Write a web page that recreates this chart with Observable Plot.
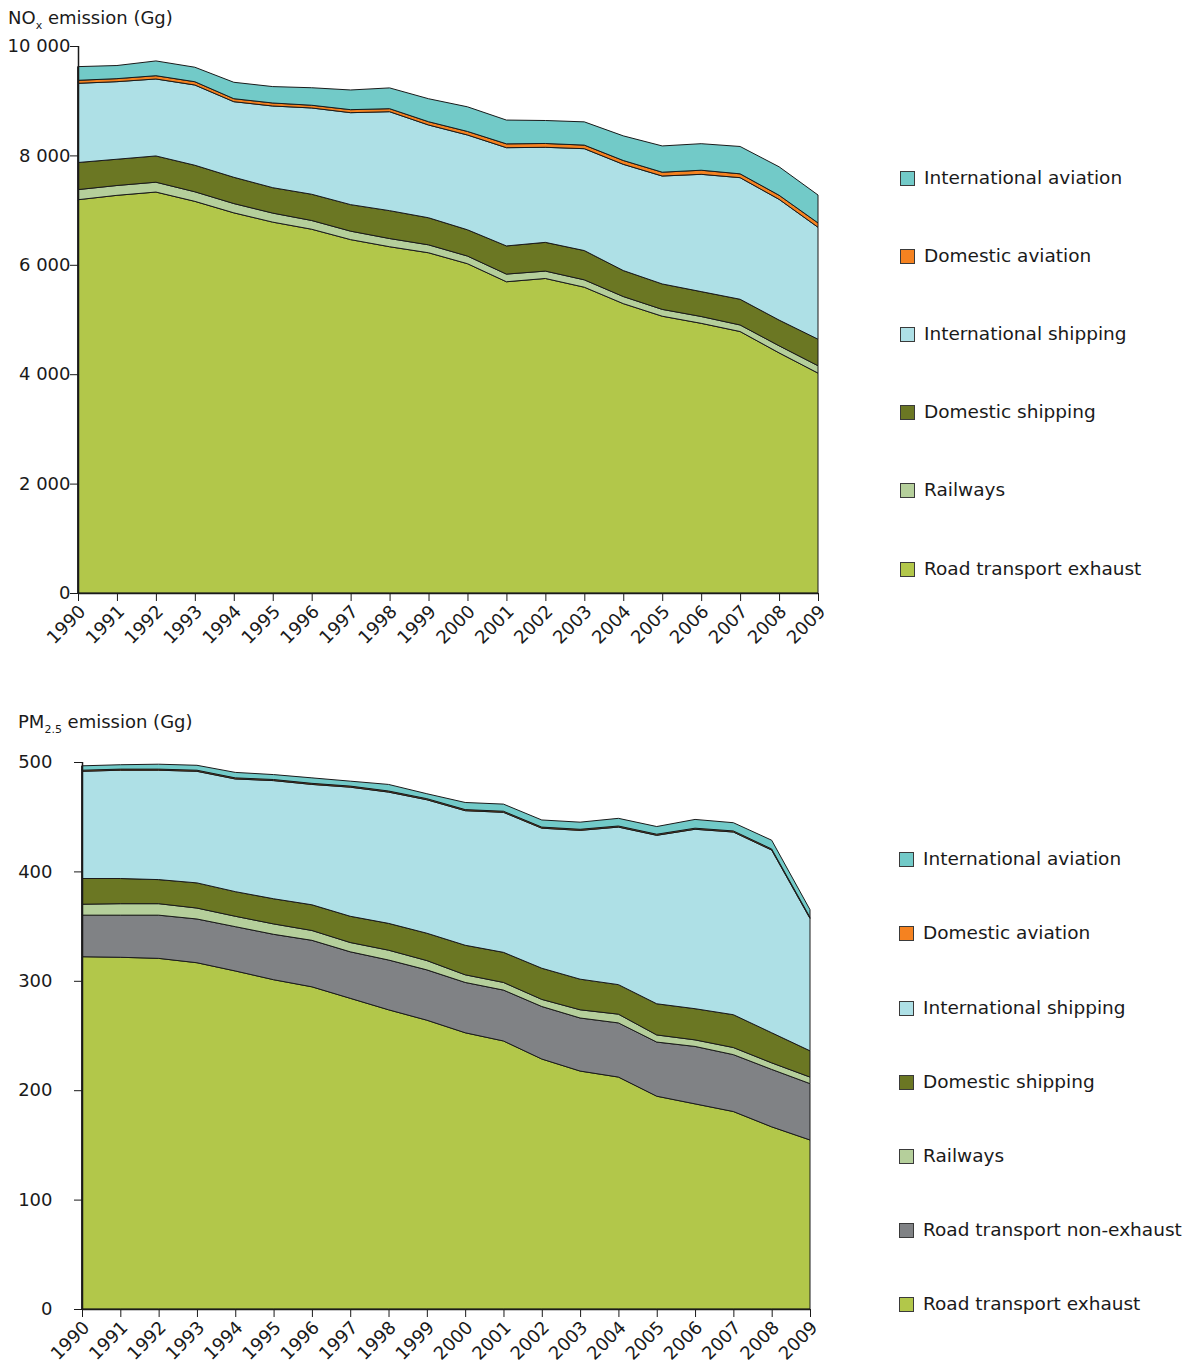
<!DOCTYPE html>
<html><head><meta charset="utf-8">
<script src="https://cdn.jsdelivr.net/npm/d3@7"></script>
<script src="https://cdn.jsdelivr.net/npm/@observablehq/plot@0.6"></script>
<style>
body{margin:0;background:#fff;font-family:"DejaVu Sans",Verdana,sans-serif;color:#1a1a1a}
#wrap{position:relative;width:1194px;height:1365px;overflow:hidden}
.title{position:absolute;font-size:18px;white-space:nowrap;line-height:24px}
.title sub{font-size:11px;vertical-align:-5px;line-height:0}
.leg{position:absolute;font-size:18.5px;white-space:nowrap;display:flex;align-items:center;height:24px;line-height:24px}
.sw{width:15px;height:15px;border:1px solid #3a3a3a;box-sizing:border-box;margin-right:9px}
</style></head>
<body><div id="wrap"></div>
<script>
// ---------- data ----------
const years = [1990,1991,1992,1993,1994,1995,1996,1997,1998,1999,2000,2001,2002,2003,2004,2005,2006,2007,2008,2009];

// NOx emission (Gg)
const noxRoadExhaust = [7190,7270,7330,7160,6950,6780,6650,6460,6330,6220,6020,5690,5750,5590,5290,5060,4930,4780,4390,4020];
const noxRailways    = [185,180,180,175,170,165,160,155,150,145,140,140,135,135,130,125,125,120,130,135];
const noxDomShipping = [495,480,480,485,480,465,480,485,510,495,480,515,525,535,475,465,455,470,470,485];
const noxIntShipping = [1448,1418,1407,1467,1382,1493,1577,1681,1809,1696,1733,1796,1738,1863,1942,1973,2144,2223,2207,2046];
const noxDomAviation = [55,55,60,60,55,55,50,55,55,60,65,70,70,65,70,70,75,70,75,80];
const noxIntAviation = [250,240,270,265,300,300,320,360,380,420,450,435,420,425,450,480,485,500,520,510];

// PM2.5 emission (Gg)
const pmRoadExhaust = [322,321.5,320.5,316.5,309,301,294.5,284,273.5,264,252.5,245,228.5,217.5,212,194.5,187.5,180.5,166.5,154.5];
const pmRoadNonExh  = [38,38.5,39.5,40,40.5,41.5,42.5,42.5,45.5,46,46,46.5,48,48.5,49.5,49.5,52.5,52,52.5,51.5];
const pmRailways    = [10,10.5,10.5,10,9.5,9.5,9,8.5,9,8.5,7,7,6.5,7.5,8,6.5,6,6.5,6,6];
const pmDomShipping = [23.5,23,22,23,22.5,23,23.5,24,24.5,25,27,27.5,28.5,28,27,28.5,28.5,30,27.5,24];
const pmIntShipping = [98,99,100,102,103,108,110,118,120,122,123,128,128,136,144,154,164,167,167,121];
const pmDomAviation = [1,1,1,1,1,1,1,1,1,1,1,1,1,1,1,1,1,1,1,1];
const pmIntAviation = [4,4,4.5,4.5,5,4.5,5,4.5,6,4.5,6.5,6.5,6.5,6.5,7,7,8,7.5,8,7];

// series names (bottom to top) and colours
const noxSeries = ["Road transport exhaust","Railways","Domestic shipping","International shipping","Domestic aviation","International aviation"];
const noxColors = ["#b2c74a","#b5cf9b","#6b7723","#aee0e6","#f58220","#72cac8"];
const pmSeries  = ["Road transport exhaust","Road transport non-exhaust","Railways","Domestic shipping","International shipping","Domestic aviation","International aviation"];
const pmColors  = ["#b2c74a","#808285","#b5cf9b","#6b7723","#aee0e6","#f58220","#72cac8"];

const noxTicks = [0,2000,4000,6000,8000,10000];
const pmTicks  = [0,100,200,300,400,500];

// ---------- build ----------
function tidy(names, arrays){
  const rows=[];
  names.forEach((n,k)=>years.forEach((y,i)=>rows.push({year:y, series:n, value:arrays[k][i]})));
  return rows;
}
const noxRows = tidy(noxSeries,[noxRoadExhaust,noxRailways,noxDomShipping,noxIntShipping,noxDomAviation,noxIntAviation]);
const pmRows  = tidy(pmSeries,[pmRoadExhaust,pmRoadNonExh,pmRailways,pmDomShipping,pmIntShipping,pmDomAviation,pmIntAviation]);

const fmt = d3.formatLocale({decimal:".", thousands:" ", grouping:[3]}).format(",");

function chart(o){
  return Plot.plot({
    width:o.width, height:o.height,
    marginLeft:o.mL, marginRight:o.mR, marginTop:o.mT, marginBottom:o.mB,
    style:{fontFamily:"'DejaVu Sans', Verdana, sans-serif", fontSize:"18px", color:"#1a1a1a", background:"transparent", overflow:"visible"},
    x:{domain:[1990,2009]},
    y:{domain:o.yDomain},
    color:{domain:o.order, range:o.colors},
    marks:[
      Plot.areaY(o.rows, Plot.stackY({x:"year", y:"value", z:"series", fill:"series", order:o.order, stroke:"#1a1a1a", strokeWidth:1, strokeLinejoin:"round"})),
      Plot.ruleX([1990], {stroke:"#1a1a1a", strokeWidth:1.5}),
      Plot.ruleY([0], {stroke:"#1a1a1a", strokeWidth:1.5}),
      Plot.axisY({ticks:o.yTicks, tickFormat:fmt, tickSize:8, tickPadding:o.yPad, label:null}),
      Plot.axisX({ticks:years, tickFormat:()=>"", tickSize:8, label:null}),
      Plot.axisX({ticks:years, tickFormat:d=>String(d), tickRotate:-45, tickSize:0, tickPadding:15, dx:4, label:null})
    ]
  });
}

const wrap = document.getElementById("wrap");

const c1 = chart({rows:noxRows, order:noxSeries, colors:noxColors, yDomain:[0,10000], yTicks:noxTicks,
  width:860, height:660, mL:78, mR:42, mT:46, mB:67, yPad:0});
c1.style.position="absolute"; c1.style.left="0px"; c1.style.top="0px";
wrap.appendChild(c1);

const c2 = chart({rows:pmRows, order:pmSeries, colors:pmColors, yDomain:[0,500], yTicks:pmTicks,
  width:860, height:665, mL:82, mR:50, mT:62, mB:56, yPad:22});
c2.style.position="absolute"; c2.style.left="0px"; c2.style.top="700px";
wrap.appendChild(c2);

// titles
const t1=document.createElement("div"); t1.className="title"; t1.style.left="8px"; t1.style.top="6px";
t1.innerHTML="NO<sub>x</sub> emission (Gg)"; wrap.appendChild(t1);
const t2=document.createElement("div"); t2.className="title"; t2.style.left="18px"; t2.style.top="710px";
t2.innerHTML="PM<sub>2.5</sub> emission (Gg)"; wrap.appendChild(t2);

// legends
function legend(names, colors, x, ys){
  const items = names.slice().reverse(), cols = colors.slice().reverse();
  items.forEach((n,i)=>{
    const d=document.createElement("div"); d.className="leg";
    d.style.left=x+"px"; d.style.top=(ys[i]-12)+"px";
    const s=document.createElement("span"); s.className="sw"; s.style.background=cols[i];
    d.appendChild(s); d.appendChild(document.createTextNode(n)); wrap.appendChild(d);
  });
}
legend(noxSeries, noxColors, 900, [178,256,334,412,490,569]);
legend(pmSeries, pmColors, 899, [859,933,1008,1082,1156,1230,1304]);
</script>
</body></html>
